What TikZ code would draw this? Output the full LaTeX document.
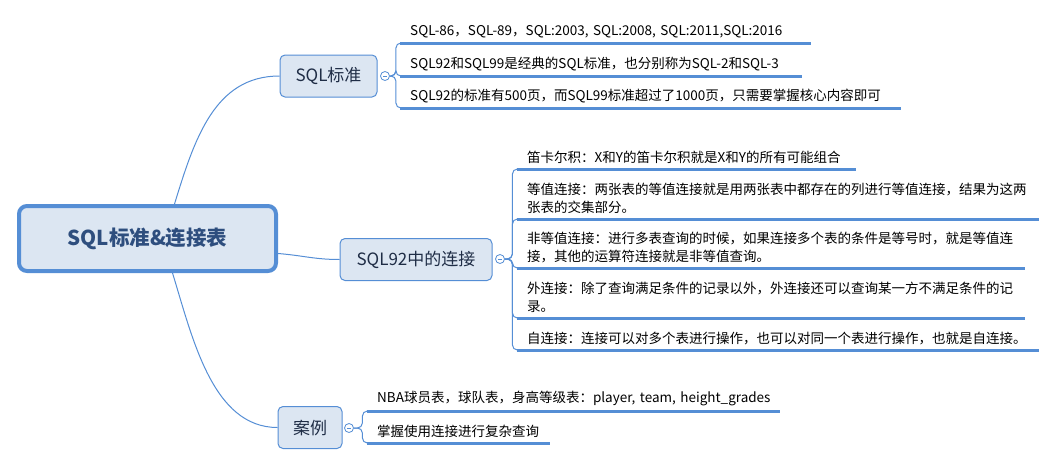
\documentclass[tikz,border=0pt]{standalone}
\usepackage{fontspec}
\setmainfont{Noto Sans CJK SC}
\usepackage{tikz}
\usetikzlibrary{calc}
\usetikzlibrary{positioning}

\definecolor{mapblue}{RGB}{85,142,213}
\definecolor{mapfill}{RGB}{220,230,242}
\definecolor{roottext}{RGB}{46,78,126}
\definecolor{branchtext}{RGB}{31,45,70}

\tikzset{root/.style={draw=mapblue, line width=4pt, fill=mapfill, rounded corners=8pt, text=roottext, font=\fontsize{20.5}{25}\selectfont\bfseries, minimum width=257pt, minimum height=65pt}}
\tikzset{branch/.style={draw=mapblue, line width=1pt, fill=mapfill, rounded corners=5pt, text=branchtext, font=\fontsize{17}{20}\selectfont, minimum height=42pt}}
\tikzset{sub/.style={anchor=south west, align=left, inner xsep=10pt, inner ysep=5pt, font=\fontsize{13.5}{18}\selectfont, text width=#1}}
\tikzset{knob/.style={draw=mapblue, line width=0.8pt, fill=white, circle, minimum size=9pt, inner sep=0pt}}
\tikzset{link/.style={draw=mapblue, line width=1pt}}
\tikzset{bracket/.style={draw=mapblue, line width=1pt, rounded corners=5pt}}
\tikzset{uline/.style={draw=mapblue, line width=3pt}}

\begin{document}
\begin{tikzpicture}[x=1pt,y=-1pt]
\useasboundingbox (0,0) rectangle (1057,466);

%root
\node[root] (root) at (147.5,238.5) {SQL标准\&连接表};

%branches
\node[branch, minimum width=97pt] (std) at (328.5,76) {SQL标准};
\node[branch, minimum width=152pt] (join) at (416,259.5) {SQL92中的连接};
\node[branch, minimum width=64pt] (case) at (310,427.5) {案例};
\path[link] ([xshift=27pt]root.north) .. controls +(20,-65) and +(-65,0) .. (std.west);
\path[link] ([yshift=-15pt]root.east) .. controls +(25,2) and +(-25,0) .. (join.west);
\path[link] ([xshift=25pt]root.south) .. controls +(20,65) and +(-65,0) .. (case.west);

%knobs
\node[knob] (stdk) at (385,76) {};
\node[knob] (joink) at (500,259) {};
\node[knob] (casek) at (349,428) {};
\foreach \k in {stdk,joink,casek}
  \draw[mapblue, line width=0.8pt] ([xshift=-2.2pt]\k.center) -- ([xshift=2.2pt]\k.center);

%SQL standard
\node[sub=391pt] (s1) at (400,43) {\mbox{SQL-86，SQL-89，SQL:2003, SQL:2008, SQL:2011,SQL:2016}};
\node[sub=382pt] (s2) at (400,76) {\mbox{SQL92和SQL99是经典的SQL标准，也分别称为SQL-2和SQL-3}};
\node[sub=481pt] (s3) at (400,108) {SQL92的标准有500页，而SQL99标准超过了1000页，只需要掌握核心内容即可};
\foreach \n in {s1,s2,s3}{
  \path[bracket] (stdk.east) -- ++(6,0) |- (\n.south west);
  \path[uline] (\n.south west) -- (\n.south east);
}

%joins in SQL92
\node[sub=319pt] (j1) at (517,169) {笛卡尔积：X和Y的笛卡尔积就是X和Y的所有可能组合};
\node[sub=502pt] (j2) at (517,219) {等值连接：两张表的等值连接就是用两张表中都存在的列进行等值连接，结果为这两\\张表的交集部分。};
\node[sub=488pt] (j3) at (517,268) {非等值连接：进行多表查询的时候，如果连接多个表的条件是等号时，就是等值连\\接，其他的运算符连接就是非等值查询。};
\node[sub=488pt] (j4) at (517,318) {外连接：除了查询满足条件的记录以外，外连接还可以查询某一方不满足条件的记\\录。};
\node[sub=502pt] (j5) at (517,350) {自连接：连接可以对多个表进行操作，也可以对同一个表进行操作，也就是自连接。};
\foreach \n in {j1,j2,j3,j4,j5}{
  \path[bracket] (joink.east) -- ++(7.5,0) |- (\n.south west);
  \path[uline] (\n.south west) -- (\n.south east);
}

%case
\node[sub=393pt] (c1) at (367,411) {\mbox{NBA球员表，球队表，身高等级表：player, team, height\_grades}};
\node[sub=163pt] (c2) at (367,443) {掌握使用连接进行复杂查询};
\foreach \n in {c1,c2}{
  \path[bracket] (casek.east) -- ++(8.5,0) |- (\n.south west);
  \path[uline] (\n.south west) -- (\n.south east);
}

\end{tikzpicture}
\end{document}
